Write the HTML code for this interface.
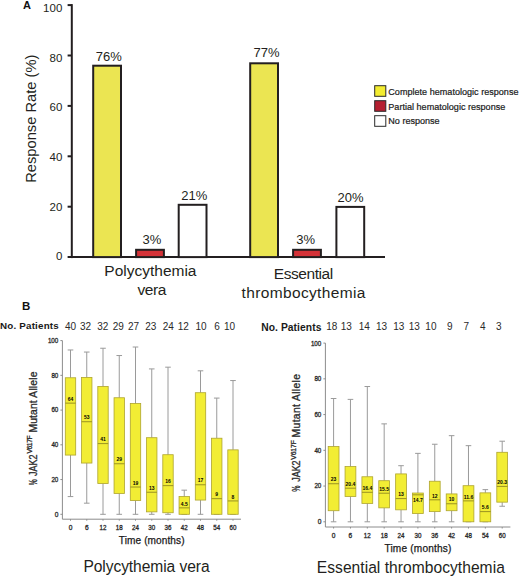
<!DOCTYPE html>
<html><head><meta charset="utf-8"><style>
html,body{margin:0;padding:0;background:#fff;}
svg{display:block;font-family:"Liberation Sans", sans-serif;}
</style></head><body>
<svg width="520" height="577" viewBox="0 0 520 577">
<rect width="520" height="577" fill="#fff"/>
<text x="23.00" y="9.20" font-size="11" font-weight="bold" fill="#111" >A</text>
<line x1="71.80" y1="4.10" x2="71.80" y2="258.10" stroke="#231f20" stroke-width="2"/>
<line x1="67.60" y1="257.10" x2="385.00" y2="257.10" stroke="#231f20" stroke-width="2"/>
<line x1="67.60" y1="206.70" x2="71.80" y2="206.70" stroke="#231f20" stroke-width="2"/>
<line x1="67.60" y1="156.30" x2="71.80" y2="156.30" stroke="#231f20" stroke-width="2"/>
<line x1="67.60" y1="105.90" x2="71.80" y2="105.90" stroke="#231f20" stroke-width="2"/>
<line x1="67.60" y1="55.50" x2="71.80" y2="55.50" stroke="#231f20" stroke-width="2"/>
<line x1="67.60" y1="5.10" x2="71.80" y2="5.10" stroke="#231f20" stroke-width="2"/>
<text x="62.30" y="259.50" font-size="11.5" text-anchor="end" fill="#231f20" >0</text>
<text x="62.30" y="211.00" font-size="11.5" text-anchor="end" fill="#231f20" >20</text>
<text x="62.30" y="160.50" font-size="11.5" text-anchor="end" fill="#231f20" >40</text>
<text x="62.30" y="111.40" font-size="11.5" text-anchor="end" fill="#231f20" >60</text>
<text x="62.30" y="61.50" font-size="11.5" text-anchor="end" fill="#231f20" >80</text>
<text x="62.30" y="12.00" font-size="11.5" text-anchor="end" fill="#231f20" >100</text>
<text transform="translate(35.5,118.75) rotate(-90)" font-size="14.7" text-anchor="middle" fill="#231f20">Response Rate (%)</text>
<rect x="93.20" y="65.70" width="27.80" height="191.40" fill="#ebe552" stroke="#231f20" stroke-width="2"/>
<text x="108.75" y="60.90" font-size="13" text-anchor="middle" fill="#231f20" >76%</text>
<rect x="136.10" y="249.80" width="27.80" height="7.30" fill="#d43238" stroke="#231f20" stroke-width="2"/>
<text x="152.00" y="243.60" font-size="13" text-anchor="middle" fill="#231f20" >3%</text>
<rect x="178.70" y="204.80" width="27.80" height="52.30" fill="#ffffff" stroke="#231f20" stroke-width="2"/>
<text x="194.25" y="200.00" font-size="13" text-anchor="middle" fill="#231f20" >21%</text>
<rect x="250.20" y="63.30" width="27.80" height="193.80" fill="#ebe552" stroke="#231f20" stroke-width="2"/>
<text x="266.50" y="57.00" font-size="13" text-anchor="middle" fill="#231f20" >77%</text>
<rect x="293.10" y="249.80" width="27.80" height="7.30" fill="#d43238" stroke="#231f20" stroke-width="2"/>
<text x="305.60" y="244.00" font-size="13" text-anchor="middle" fill="#231f20" >3%</text>
<rect x="336.40" y="206.90" width="27.80" height="50.20" fill="#ffffff" stroke="#231f20" stroke-width="2"/>
<text x="350.50" y="202.00" font-size="13" text-anchor="middle" fill="#231f20" >20%</text>
<text x="150.40" y="275.60" font-size="15.5" text-anchor="middle" fill="#231f20" >Polycythemia</text>
<text x="151.90" y="295.20" font-size="15.5" text-anchor="middle" fill="#231f20" textLength="28.90" lengthAdjust="spacing" >vera</text>
<text x="303.50" y="279.30" font-size="15.5" text-anchor="middle" fill="#231f20" textLength="59.50" lengthAdjust="spacing" >Essential</text>
<text x="303.50" y="297.80" font-size="15.5" text-anchor="middle" fill="#231f20" textLength="123.80" lengthAdjust="spacing" >thrombocythemia</text>
<rect x="374.70" y="85.70" width="11.10" height="10.60" fill="#f3ec30" stroke="#2a2a2a" stroke-width="1"/>
<text x="388.30" y="95.00" font-size="9.05" fill="#1a1a1a" textLength="130.20" lengthAdjust="spacing"  stroke="#1a1a1a" stroke-width="0.2">Complete hematologic response</text>
<rect x="374.70" y="100.70" width="11.10" height="10.60" fill="#b51f30" stroke="#2a2a2a" stroke-width="1"/>
<text x="388.30" y="109.60" font-size="9.05" fill="#1a1a1a" textLength="117.00" lengthAdjust="spacing"  stroke="#1a1a1a" stroke-width="0.2">Partial hematologic response</text>
<rect x="374.70" y="115.70" width="11.10" height="10.60" fill="#ffffff" stroke="#2a2a2a" stroke-width="1"/>
<text x="388.30" y="124.20" font-size="9.05" fill="#1a1a1a"  stroke="#1a1a1a" stroke-width="0.2">No response</text>
<text x="22.00" y="310.40" font-size="11.5" font-weight="bold" fill="#111" >B</text>
<line x1="62.40" y1="340.60" x2="62.40" y2="519.20" stroke="#8c8c8c" stroke-width="1"/>
<line x1="62.40" y1="519.20" x2="241.00" y2="519.20" stroke="#8c8c8c" stroke-width="1"/>
<line x1="60.40" y1="514.30" x2="62.40" y2="514.30" stroke="#8c8c8c" stroke-width="1"/>
<text x="58.30" y="516.70" font-size="6.6" text-anchor="end" fill="#2a2a2a"  stroke="#2a2a2a" stroke-width="0.3">0</text>
<line x1="60.40" y1="479.56" x2="62.40" y2="479.56" stroke="#8c8c8c" stroke-width="1"/>
<text x="58.30" y="481.96" font-size="6.6" text-anchor="end" fill="#2a2a2a" textLength="6.90" lengthAdjust="spacingAndGlyphs"  stroke="#2a2a2a" stroke-width="0.3">20</text>
<line x1="60.40" y1="444.82" x2="62.40" y2="444.82" stroke="#8c8c8c" stroke-width="1"/>
<text x="58.30" y="447.22" font-size="6.6" text-anchor="end" fill="#2a2a2a" textLength="6.90" lengthAdjust="spacingAndGlyphs"  stroke="#2a2a2a" stroke-width="0.3">40</text>
<line x1="60.40" y1="410.08" x2="62.40" y2="410.08" stroke="#8c8c8c" stroke-width="1"/>
<text x="58.30" y="412.48" font-size="6.6" text-anchor="end" fill="#2a2a2a" textLength="6.90" lengthAdjust="spacingAndGlyphs"  stroke="#2a2a2a" stroke-width="0.3">60</text>
<line x1="60.40" y1="375.34" x2="62.40" y2="375.34" stroke="#8c8c8c" stroke-width="1"/>
<text x="58.30" y="377.74" font-size="6.6" text-anchor="end" fill="#2a2a2a" textLength="6.90" lengthAdjust="spacingAndGlyphs"  stroke="#2a2a2a" stroke-width="0.3">80</text>
<line x1="60.40" y1="340.60" x2="62.40" y2="340.60" stroke="#8c8c8c" stroke-width="1"/>
<text x="58.30" y="343.00" font-size="6.6" text-anchor="end" fill="#2a2a2a" textLength="10.40" lengthAdjust="spacingAndGlyphs"  stroke="#2a2a2a" stroke-width="0.3">100</text>
<line x1="70.50" y1="519.20" x2="70.50" y2="520.70" stroke="#8c8c8c" stroke-width="1"/>
<text x="70.50" y="529.70" font-size="6.6" text-anchor="middle" fill="#2a2a2a"  stroke="#2a2a2a" stroke-width="0.3">0</text>
<line x1="70.50" y1="349.98" x2="70.50" y2="377.77" stroke="#9a9a9a" stroke-width="1"/>
<line x1="67.70" y1="349.98" x2="73.30" y2="349.98" stroke="#9a9a9a" stroke-width="1"/>
<line x1="70.50" y1="455.07" x2="70.50" y2="496.58" stroke="#9a9a9a" stroke-width="1"/>
<line x1="67.70" y1="496.58" x2="73.30" y2="496.58" stroke="#9a9a9a" stroke-width="1"/>
<rect x="65.30" y="377.77" width="10.40" height="77.30" fill="#f2ed34" stroke="#aea42e" stroke-width="0.8"/>
<line x1="65.30" y1="403.13" x2="75.70" y2="403.13" stroke="#9a9222" stroke-width="1"/>
<text x="70.50" y="400.83" font-size="5" text-anchor="middle" font-weight="bold" fill="#000" >64</text>
<line x1="86.75" y1="519.20" x2="86.75" y2="520.70" stroke="#8c8c8c" stroke-width="1"/>
<text x="86.75" y="529.70" font-size="6.6" text-anchor="middle" fill="#2a2a2a"  stroke="#2a2a2a" stroke-width="0.3">6</text>
<line x1="86.75" y1="352.06" x2="86.75" y2="377.42" stroke="#9a9a9a" stroke-width="1"/>
<line x1="83.95" y1="352.06" x2="89.55" y2="352.06" stroke="#9a9a9a" stroke-width="1"/>
<line x1="86.75" y1="463.06" x2="86.75" y2="503.18" stroke="#9a9a9a" stroke-width="1"/>
<line x1="83.95" y1="503.18" x2="89.55" y2="503.18" stroke="#9a9a9a" stroke-width="1"/>
<rect x="81.55" y="377.42" width="10.40" height="85.63" fill="#f2ed34" stroke="#aea42e" stroke-width="0.8"/>
<line x1="81.55" y1="421.72" x2="91.95" y2="421.72" stroke="#9a9222" stroke-width="1"/>
<text x="86.75" y="419.42" font-size="5" text-anchor="middle" font-weight="bold" fill="#000" >53</text>
<line x1="103.00" y1="519.20" x2="103.00" y2="520.70" stroke="#8c8c8c" stroke-width="1"/>
<text x="103.00" y="529.70" font-size="6.6" text-anchor="middle" fill="#2a2a2a" textLength="6.90" lengthAdjust="spacingAndGlyphs"  stroke="#2a2a2a" stroke-width="0.3">12</text>
<line x1="103.00" y1="348.24" x2="103.00" y2="386.46" stroke="#9a9a9a" stroke-width="1"/>
<line x1="100.20" y1="348.24" x2="105.80" y2="348.24" stroke="#9a9a9a" stroke-width="1"/>
<line x1="103.00" y1="483.56" x2="103.00" y2="514.30" stroke="#9a9a9a" stroke-width="1"/>
<line x1="100.20" y1="514.30" x2="105.80" y2="514.30" stroke="#9a9a9a" stroke-width="1"/>
<rect x="97.80" y="386.46" width="10.40" height="97.10" fill="#f2ed34" stroke="#aea42e" stroke-width="0.8"/>
<line x1="97.80" y1="443.60" x2="108.20" y2="443.60" stroke="#9a9222" stroke-width="1"/>
<text x="103.00" y="441.30" font-size="5" text-anchor="middle" font-weight="bold" fill="#000" >41</text>
<line x1="119.25" y1="519.20" x2="119.25" y2="520.70" stroke="#8c8c8c" stroke-width="1"/>
<text x="119.25" y="529.70" font-size="6.6" text-anchor="middle" fill="#2a2a2a" textLength="6.90" lengthAdjust="spacingAndGlyphs"  stroke="#2a2a2a" stroke-width="0.3">18</text>
<line x1="119.25" y1="355.54" x2="119.25" y2="397.75" stroke="#9a9a9a" stroke-width="1"/>
<line x1="116.45" y1="355.54" x2="122.05" y2="355.54" stroke="#9a9a9a" stroke-width="1"/>
<line x1="119.25" y1="493.46" x2="119.25" y2="514.30" stroke="#9a9a9a" stroke-width="1"/>
<line x1="116.45" y1="514.30" x2="122.05" y2="514.30" stroke="#9a9a9a" stroke-width="1"/>
<rect x="114.05" y="397.75" width="10.40" height="95.71" fill="#f2ed34" stroke="#aea42e" stroke-width="0.8"/>
<line x1="114.05" y1="463.75" x2="124.45" y2="463.75" stroke="#9a9222" stroke-width="1"/>
<text x="119.25" y="461.45" font-size="5" text-anchor="middle" font-weight="bold" fill="#000" >29</text>
<line x1="135.50" y1="519.20" x2="135.50" y2="520.70" stroke="#8c8c8c" stroke-width="1"/>
<text x="135.50" y="529.70" font-size="6.6" text-anchor="middle" fill="#2a2a2a" textLength="6.90" lengthAdjust="spacingAndGlyphs"  stroke="#2a2a2a" stroke-width="0.3">24</text>
<line x1="135.50" y1="347.03" x2="135.50" y2="403.48" stroke="#9a9a9a" stroke-width="1"/>
<line x1="132.70" y1="347.03" x2="138.30" y2="347.03" stroke="#9a9a9a" stroke-width="1"/>
<line x1="135.50" y1="500.58" x2="135.50" y2="514.30" stroke="#9a9a9a" stroke-width="1"/>
<line x1="132.70" y1="514.30" x2="138.30" y2="514.30" stroke="#9a9a9a" stroke-width="1"/>
<rect x="130.30" y="403.48" width="10.40" height="97.10" fill="#f2ed34" stroke="#aea42e" stroke-width="0.8"/>
<line x1="130.30" y1="487.03" x2="140.70" y2="487.03" stroke="#9a9222" stroke-width="1"/>
<text x="135.50" y="484.73" font-size="5" text-anchor="middle" font-weight="bold" fill="#000" >19</text>
<line x1="151.75" y1="519.20" x2="151.75" y2="520.70" stroke="#8c8c8c" stroke-width="1"/>
<text x="151.75" y="529.70" font-size="6.6" text-anchor="middle" fill="#2a2a2a" textLength="6.90" lengthAdjust="spacingAndGlyphs"  stroke="#2a2a2a" stroke-width="0.3">30</text>
<line x1="151.75" y1="368.91" x2="151.75" y2="437.70" stroke="#9a9a9a" stroke-width="1"/>
<line x1="148.95" y1="368.91" x2="154.55" y2="368.91" stroke="#9a9a9a" stroke-width="1"/>
<line x1="151.75" y1="511.87" x2="151.75" y2="514.30" stroke="#9a9a9a" stroke-width="1"/>
<line x1="148.95" y1="514.30" x2="154.55" y2="514.30" stroke="#9a9a9a" stroke-width="1"/>
<rect x="146.55" y="437.70" width="10.40" height="74.17" fill="#f2ed34" stroke="#aea42e" stroke-width="0.8"/>
<line x1="146.55" y1="492.24" x2="156.95" y2="492.24" stroke="#9a9222" stroke-width="1"/>
<text x="151.75" y="489.94" font-size="5" text-anchor="middle" font-weight="bold" fill="#000" >13</text>
<line x1="168.00" y1="519.20" x2="168.00" y2="520.70" stroke="#8c8c8c" stroke-width="1"/>
<text x="168.00" y="529.70" font-size="6.6" text-anchor="middle" fill="#2a2a2a" textLength="6.90" lengthAdjust="spacingAndGlyphs"  stroke="#2a2a2a" stroke-width="0.3">36</text>
<line x1="168.00" y1="367.18" x2="168.00" y2="454.72" stroke="#9a9a9a" stroke-width="1"/>
<line x1="165.20" y1="367.18" x2="170.80" y2="367.18" stroke="#9a9a9a" stroke-width="1"/>
<line x1="168.00" y1="512.74" x2="168.00" y2="514.30" stroke="#9a9a9a" stroke-width="1"/>
<line x1="165.20" y1="514.30" x2="170.80" y2="514.30" stroke="#9a9a9a" stroke-width="1"/>
<rect x="162.80" y="454.72" width="10.40" height="58.02" fill="#f2ed34" stroke="#aea42e" stroke-width="0.8"/>
<line x1="162.80" y1="485.64" x2="173.20" y2="485.64" stroke="#9a9222" stroke-width="1"/>
<text x="168.00" y="483.34" font-size="5" text-anchor="middle" font-weight="bold" fill="#000" >16</text>
<line x1="184.25" y1="519.20" x2="184.25" y2="520.70" stroke="#8c8c8c" stroke-width="1"/>
<text x="184.25" y="529.70" font-size="6.6" text-anchor="middle" fill="#2a2a2a" textLength="6.90" lengthAdjust="spacingAndGlyphs"  stroke="#2a2a2a" stroke-width="0.3">42</text>
<line x1="184.25" y1="490.16" x2="184.25" y2="496.58" stroke="#9a9a9a" stroke-width="1"/>
<line x1="181.45" y1="490.16" x2="187.05" y2="490.16" stroke="#9a9a9a" stroke-width="1"/>
<line x1="184.25" y1="514.30" x2="184.25" y2="514.30" stroke="#9a9a9a" stroke-width="1"/>
<line x1="181.45" y1="514.30" x2="187.05" y2="514.30" stroke="#9a9a9a" stroke-width="1"/>
<rect x="179.05" y="496.58" width="10.40" height="17.72" fill="#f2ed34" stroke="#aea42e" stroke-width="0.8"/>
<line x1="179.05" y1="507.87" x2="189.45" y2="507.87" stroke="#9a9222" stroke-width="1"/>
<text x="184.25" y="505.57" font-size="5" text-anchor="middle" font-weight="bold" fill="#000" >4.5</text>
<line x1="200.50" y1="519.20" x2="200.50" y2="520.70" stroke="#8c8c8c" stroke-width="1"/>
<text x="200.50" y="529.70" font-size="6.6" text-anchor="middle" fill="#2a2a2a" textLength="6.90" lengthAdjust="spacingAndGlyphs"  stroke="#2a2a2a" stroke-width="0.3">48</text>
<line x1="200.50" y1="370.82" x2="200.50" y2="392.71" stroke="#9a9a9a" stroke-width="1"/>
<line x1="197.70" y1="370.82" x2="203.30" y2="370.82" stroke="#9a9a9a" stroke-width="1"/>
<line x1="200.50" y1="500.06" x2="200.50" y2="514.30" stroke="#9a9a9a" stroke-width="1"/>
<line x1="197.70" y1="514.30" x2="203.30" y2="514.30" stroke="#9a9a9a" stroke-width="1"/>
<rect x="195.30" y="392.71" width="10.40" height="107.35" fill="#f2ed34" stroke="#aea42e" stroke-width="0.8"/>
<line x1="195.30" y1="484.77" x2="205.70" y2="484.77" stroke="#9a9222" stroke-width="1"/>
<text x="200.50" y="482.47" font-size="5" text-anchor="middle" font-weight="bold" fill="#000" >17</text>
<line x1="216.75" y1="519.20" x2="216.75" y2="520.70" stroke="#8c8c8c" stroke-width="1"/>
<text x="216.75" y="529.70" font-size="6.6" text-anchor="middle" fill="#2a2a2a" textLength="6.90" lengthAdjust="spacingAndGlyphs"  stroke="#2a2a2a" stroke-width="0.3">54</text>
<line x1="216.75" y1="398.09" x2="216.75" y2="438.22" stroke="#9a9a9a" stroke-width="1"/>
<line x1="213.95" y1="398.09" x2="219.55" y2="398.09" stroke="#9a9a9a" stroke-width="1"/>
<line x1="216.75" y1="514.30" x2="216.75" y2="514.30" stroke="#9a9a9a" stroke-width="1"/>
<line x1="213.95" y1="514.30" x2="219.55" y2="514.30" stroke="#9a9a9a" stroke-width="1"/>
<rect x="211.55" y="438.22" width="10.40" height="76.08" fill="#f2ed34" stroke="#aea42e" stroke-width="0.8"/>
<line x1="211.55" y1="498.67" x2="221.95" y2="498.67" stroke="#9a9222" stroke-width="1"/>
<text x="216.75" y="496.37" font-size="5" text-anchor="middle" font-weight="bold" fill="#000" >9</text>
<line x1="233.00" y1="519.20" x2="233.00" y2="520.70" stroke="#8c8c8c" stroke-width="1"/>
<text x="233.00" y="529.70" font-size="6.6" text-anchor="middle" fill="#2a2a2a" textLength="6.90" lengthAdjust="spacingAndGlyphs"  stroke="#2a2a2a" stroke-width="0.3">60</text>
<line x1="233.00" y1="380.55" x2="233.00" y2="449.86" stroke="#9a9a9a" stroke-width="1"/>
<line x1="230.20" y1="380.55" x2="235.80" y2="380.55" stroke="#9a9a9a" stroke-width="1"/>
<line x1="233.00" y1="514.30" x2="233.00" y2="514.30" stroke="#9a9a9a" stroke-width="1"/>
<line x1="230.20" y1="514.30" x2="235.80" y2="514.30" stroke="#9a9a9a" stroke-width="1"/>
<rect x="227.80" y="449.86" width="10.40" height="64.44" fill="#f2ed34" stroke="#aea42e" stroke-width="0.8"/>
<line x1="227.80" y1="500.93" x2="238.20" y2="500.93" stroke="#9a9222" stroke-width="1"/>
<text x="233.00" y="498.63" font-size="5" text-anchor="middle" font-weight="bold" fill="#000" >8</text>
<line x1="325.40" y1="343.10" x2="325.40" y2="527.00" stroke="#8c8c8c" stroke-width="1"/>
<line x1="325.40" y1="527.00" x2="510.40" y2="527.00" stroke="#8c8c8c" stroke-width="1"/>
<line x1="323.40" y1="521.80" x2="325.40" y2="521.80" stroke="#8c8c8c" stroke-width="1"/>
<text x="321.30" y="524.20" font-size="6.6" text-anchor="end" fill="#2a2a2a"  stroke="#2a2a2a" stroke-width="0.3">0</text>
<line x1="323.40" y1="486.06" x2="325.40" y2="486.06" stroke="#8c8c8c" stroke-width="1"/>
<text x="321.30" y="488.46" font-size="6.6" text-anchor="end" fill="#2a2a2a" textLength="6.90" lengthAdjust="spacingAndGlyphs"  stroke="#2a2a2a" stroke-width="0.3">20</text>
<line x1="323.40" y1="450.32" x2="325.40" y2="450.32" stroke="#8c8c8c" stroke-width="1"/>
<text x="321.30" y="452.72" font-size="6.6" text-anchor="end" fill="#2a2a2a" textLength="6.90" lengthAdjust="spacingAndGlyphs"  stroke="#2a2a2a" stroke-width="0.3">40</text>
<line x1="323.40" y1="414.58" x2="325.40" y2="414.58" stroke="#8c8c8c" stroke-width="1"/>
<text x="321.30" y="416.98" font-size="6.6" text-anchor="end" fill="#2a2a2a" textLength="6.90" lengthAdjust="spacingAndGlyphs"  stroke="#2a2a2a" stroke-width="0.3">60</text>
<line x1="323.40" y1="378.84" x2="325.40" y2="378.84" stroke="#8c8c8c" stroke-width="1"/>
<text x="321.30" y="381.24" font-size="6.6" text-anchor="end" fill="#2a2a2a" textLength="6.90" lengthAdjust="spacingAndGlyphs"  stroke="#2a2a2a" stroke-width="0.3">80</text>
<line x1="323.40" y1="343.10" x2="325.40" y2="343.10" stroke="#8c8c8c" stroke-width="1"/>
<text x="321.30" y="345.50" font-size="6.6" text-anchor="end" fill="#2a2a2a" textLength="10.40" lengthAdjust="spacingAndGlyphs"  stroke="#2a2a2a" stroke-width="0.3">100</text>
<line x1="333.60" y1="527.00" x2="333.60" y2="528.50" stroke="#8c8c8c" stroke-width="1"/>
<text x="333.60" y="537.80" font-size="6.6" text-anchor="middle" fill="#2a2a2a"  stroke="#2a2a2a" stroke-width="0.3">0</text>
<line x1="333.60" y1="398.50" x2="333.60" y2="446.57" stroke="#9a9a9a" stroke-width="1"/>
<line x1="330.80" y1="398.50" x2="336.40" y2="398.50" stroke="#9a9a9a" stroke-width="1"/>
<line x1="333.60" y1="510.72" x2="333.60" y2="521.80" stroke="#9a9a9a" stroke-width="1"/>
<line x1="330.80" y1="521.80" x2="336.40" y2="521.80" stroke="#9a9a9a" stroke-width="1"/>
<rect x="328.20" y="446.57" width="10.80" height="64.15" fill="#f2ed34" stroke="#aea42e" stroke-width="0.8"/>
<line x1="328.20" y1="483.74" x2="339.00" y2="483.74" stroke="#9a9222" stroke-width="1"/>
<text x="333.60" y="481.44" font-size="5" text-anchor="middle" font-weight="bold" fill="#000" >23</text>
<line x1="350.46" y1="527.00" x2="350.46" y2="528.50" stroke="#8c8c8c" stroke-width="1"/>
<text x="350.46" y="537.80" font-size="6.6" text-anchor="middle" fill="#2a2a2a"  stroke="#2a2a2a" stroke-width="0.3">6</text>
<line x1="350.46" y1="399.39" x2="350.46" y2="466.58" stroke="#9a9a9a" stroke-width="1"/>
<line x1="347.66" y1="399.39" x2="353.26" y2="399.39" stroke="#9a9a9a" stroke-width="1"/>
<line x1="350.46" y1="496.42" x2="350.46" y2="521.80" stroke="#9a9a9a" stroke-width="1"/>
<line x1="347.66" y1="521.80" x2="353.26" y2="521.80" stroke="#9a9a9a" stroke-width="1"/>
<rect x="345.06" y="466.58" width="10.80" height="29.84" fill="#f2ed34" stroke="#aea42e" stroke-width="0.8"/>
<line x1="345.06" y1="488.20" x2="355.86" y2="488.20" stroke="#9a9222" stroke-width="1"/>
<text x="350.46" y="485.90" font-size="5" text-anchor="middle" font-weight="bold" fill="#000" >20.4</text>
<line x1="367.32" y1="527.00" x2="367.32" y2="528.50" stroke="#8c8c8c" stroke-width="1"/>
<text x="367.32" y="537.80" font-size="6.6" text-anchor="middle" fill="#2a2a2a" textLength="6.90" lengthAdjust="spacingAndGlyphs"  stroke="#2a2a2a" stroke-width="0.3">12</text>
<line x1="367.32" y1="386.52" x2="367.32" y2="476.77" stroke="#9a9a9a" stroke-width="1"/>
<line x1="364.52" y1="386.52" x2="370.12" y2="386.52" stroke="#9a9a9a" stroke-width="1"/>
<line x1="367.32" y1="503.39" x2="367.32" y2="521.80" stroke="#9a9a9a" stroke-width="1"/>
<line x1="364.52" y1="521.80" x2="370.12" y2="521.80" stroke="#9a9a9a" stroke-width="1"/>
<rect x="361.92" y="476.77" width="10.80" height="26.63" fill="#f2ed34" stroke="#aea42e" stroke-width="0.8"/>
<line x1="361.92" y1="492.31" x2="372.72" y2="492.31" stroke="#9a9222" stroke-width="1"/>
<text x="367.32" y="490.01" font-size="5" text-anchor="middle" font-weight="bold" fill="#000" >16.4</text>
<line x1="384.18" y1="527.00" x2="384.18" y2="528.50" stroke="#8c8c8c" stroke-width="1"/>
<text x="384.18" y="537.80" font-size="6.6" text-anchor="middle" fill="#2a2a2a" textLength="6.90" lengthAdjust="spacingAndGlyphs"  stroke="#2a2a2a" stroke-width="0.3">18</text>
<line x1="384.18" y1="423.87" x2="384.18" y2="480.70" stroke="#9a9a9a" stroke-width="1"/>
<line x1="381.38" y1="423.87" x2="386.98" y2="423.87" stroke="#9a9a9a" stroke-width="1"/>
<line x1="384.18" y1="507.86" x2="384.18" y2="521.80" stroke="#9a9a9a" stroke-width="1"/>
<line x1="381.38" y1="521.80" x2="386.98" y2="521.80" stroke="#9a9a9a" stroke-width="1"/>
<rect x="378.78" y="480.70" width="10.80" height="27.16" fill="#f2ed34" stroke="#aea42e" stroke-width="0.8"/>
<line x1="378.78" y1="493.21" x2="389.58" y2="493.21" stroke="#9a9222" stroke-width="1"/>
<text x="384.18" y="490.91" font-size="5" text-anchor="middle" font-weight="bold" fill="#000" >15.5</text>
<line x1="401.04" y1="527.00" x2="401.04" y2="528.50" stroke="#8c8c8c" stroke-width="1"/>
<text x="401.04" y="537.80" font-size="6.6" text-anchor="middle" fill="#2a2a2a" textLength="6.90" lengthAdjust="spacingAndGlyphs"  stroke="#2a2a2a" stroke-width="0.3">24</text>
<line x1="401.04" y1="465.69" x2="401.04" y2="473.91" stroke="#9a9a9a" stroke-width="1"/>
<line x1="398.24" y1="465.69" x2="403.84" y2="465.69" stroke="#9a9a9a" stroke-width="1"/>
<line x1="401.04" y1="509.83" x2="401.04" y2="521.80" stroke="#9a9a9a" stroke-width="1"/>
<line x1="398.24" y1="521.80" x2="403.84" y2="521.80" stroke="#9a9a9a" stroke-width="1"/>
<rect x="395.64" y="473.91" width="10.80" height="35.92" fill="#f2ed34" stroke="#aea42e" stroke-width="0.8"/>
<line x1="395.64" y1="498.57" x2="406.44" y2="498.57" stroke="#9a9222" stroke-width="1"/>
<text x="401.04" y="496.27" font-size="5" text-anchor="middle" font-weight="bold" fill="#000" >13</text>
<line x1="417.90" y1="527.00" x2="417.90" y2="528.50" stroke="#8c8c8c" stroke-width="1"/>
<text x="417.90" y="537.80" font-size="6.6" text-anchor="middle" fill="#2a2a2a" textLength="6.90" lengthAdjust="spacingAndGlyphs"  stroke="#2a2a2a" stroke-width="0.3">30</text>
<line x1="417.90" y1="453.36" x2="417.90" y2="493.03" stroke="#9a9a9a" stroke-width="1"/>
<line x1="415.10" y1="453.36" x2="420.70" y2="453.36" stroke="#9a9a9a" stroke-width="1"/>
<line x1="417.90" y1="513.58" x2="417.90" y2="521.80" stroke="#9a9a9a" stroke-width="1"/>
<line x1="415.10" y1="521.80" x2="420.70" y2="521.80" stroke="#9a9a9a" stroke-width="1"/>
<rect x="412.50" y="493.03" width="10.80" height="20.55" fill="#f2ed34" stroke="#aea42e" stroke-width="0.8"/>
<line x1="412.50" y1="494.82" x2="423.30" y2="494.82" stroke="#9a9222" stroke-width="1"/>
<text x="417.90" y="502.20" font-size="5" text-anchor="middle" font-weight="bold" fill="#000" >14.7</text>
<line x1="434.76" y1="527.00" x2="434.76" y2="528.50" stroke="#8c8c8c" stroke-width="1"/>
<text x="434.76" y="537.80" font-size="6.6" text-anchor="middle" fill="#2a2a2a" textLength="6.90" lengthAdjust="spacingAndGlyphs"  stroke="#2a2a2a" stroke-width="0.3">36</text>
<line x1="434.76" y1="444.24" x2="434.76" y2="481.24" stroke="#9a9a9a" stroke-width="1"/>
<line x1="431.96" y1="444.24" x2="437.56" y2="444.24" stroke="#9a9a9a" stroke-width="1"/>
<line x1="434.76" y1="511.61" x2="434.76" y2="521.80" stroke="#9a9a9a" stroke-width="1"/>
<line x1="431.96" y1="521.80" x2="437.56" y2="521.80" stroke="#9a9a9a" stroke-width="1"/>
<rect x="429.36" y="481.24" width="10.80" height="30.38" fill="#f2ed34" stroke="#aea42e" stroke-width="0.8"/>
<line x1="429.36" y1="499.82" x2="440.16" y2="499.82" stroke="#9a9222" stroke-width="1"/>
<text x="434.76" y="497.52" font-size="5" text-anchor="middle" font-weight="bold" fill="#000" >12</text>
<line x1="451.62" y1="527.00" x2="451.62" y2="528.50" stroke="#8c8c8c" stroke-width="1"/>
<text x="451.62" y="537.80" font-size="6.6" text-anchor="middle" fill="#2a2a2a" textLength="6.90" lengthAdjust="spacingAndGlyphs"  stroke="#2a2a2a" stroke-width="0.3">42</text>
<line x1="451.62" y1="435.67" x2="451.62" y2="493.92" stroke="#9a9a9a" stroke-width="1"/>
<line x1="448.82" y1="435.67" x2="454.42" y2="435.67" stroke="#9a9a9a" stroke-width="1"/>
<line x1="451.62" y1="510.72" x2="451.62" y2="521.80" stroke="#9a9a9a" stroke-width="1"/>
<line x1="448.82" y1="521.80" x2="454.42" y2="521.80" stroke="#9a9a9a" stroke-width="1"/>
<rect x="446.22" y="493.92" width="10.80" height="16.80" fill="#f2ed34" stroke="#aea42e" stroke-width="0.8"/>
<line x1="446.22" y1="503.75" x2="457.02" y2="503.75" stroke="#9a9222" stroke-width="1"/>
<text x="451.62" y="501.45" font-size="5" text-anchor="middle" font-weight="bold" fill="#000" >10</text>
<line x1="468.48" y1="527.00" x2="468.48" y2="528.50" stroke="#8c8c8c" stroke-width="1"/>
<text x="468.48" y="537.80" font-size="6.6" text-anchor="middle" fill="#2a2a2a" textLength="6.90" lengthAdjust="spacingAndGlyphs"  stroke="#2a2a2a" stroke-width="0.3">48</text>
<line x1="468.48" y1="445.67" x2="468.48" y2="485.70" stroke="#9a9a9a" stroke-width="1"/>
<line x1="465.68" y1="445.67" x2="471.28" y2="445.67" stroke="#9a9a9a" stroke-width="1"/>
<line x1="468.48" y1="521.80" x2="468.48" y2="521.80" stroke="#9a9a9a" stroke-width="1"/>
<line x1="465.68" y1="521.80" x2="471.28" y2="521.80" stroke="#9a9a9a" stroke-width="1"/>
<rect x="463.08" y="485.70" width="10.80" height="36.10" fill="#f2ed34" stroke="#aea42e" stroke-width="0.8"/>
<line x1="463.08" y1="500.89" x2="473.88" y2="500.89" stroke="#9a9222" stroke-width="1"/>
<text x="468.48" y="498.59" font-size="5" text-anchor="middle" font-weight="bold" fill="#000" >11.6</text>
<line x1="485.34" y1="527.00" x2="485.34" y2="528.50" stroke="#8c8c8c" stroke-width="1"/>
<text x="485.34" y="537.80" font-size="6.6" text-anchor="middle" fill="#2a2a2a" textLength="6.90" lengthAdjust="spacingAndGlyphs"  stroke="#2a2a2a" stroke-width="0.3">54</text>
<line x1="485.34" y1="489.63" x2="485.34" y2="492.85" stroke="#9a9a9a" stroke-width="1"/>
<line x1="482.54" y1="489.63" x2="488.14" y2="489.63" stroke="#9a9a9a" stroke-width="1"/>
<line x1="485.34" y1="521.80" x2="485.34" y2="521.80" stroke="#9a9a9a" stroke-width="1"/>
<line x1="482.54" y1="521.80" x2="488.14" y2="521.80" stroke="#9a9a9a" stroke-width="1"/>
<rect x="479.94" y="492.85" width="10.80" height="28.95" fill="#f2ed34" stroke="#aea42e" stroke-width="0.8"/>
<line x1="479.94" y1="511.61" x2="490.74" y2="511.61" stroke="#9a9222" stroke-width="1"/>
<text x="485.34" y="509.31" font-size="5" text-anchor="middle" font-weight="bold" fill="#000" >5.6</text>
<line x1="502.20" y1="527.00" x2="502.20" y2="528.50" stroke="#8c8c8c" stroke-width="1"/>
<text x="502.20" y="537.80" font-size="6.6" text-anchor="middle" fill="#2a2a2a" textLength="6.90" lengthAdjust="spacingAndGlyphs"  stroke="#2a2a2a" stroke-width="0.3">60</text>
<line x1="502.20" y1="441.21" x2="502.20" y2="452.29" stroke="#9a9a9a" stroke-width="1"/>
<line x1="499.40" y1="441.21" x2="505.00" y2="441.21" stroke="#9a9a9a" stroke-width="1"/>
<line x1="502.20" y1="502.14" x2="502.20" y2="506.25" stroke="#9a9a9a" stroke-width="1"/>
<line x1="499.40" y1="506.25" x2="505.00" y2="506.25" stroke="#9a9a9a" stroke-width="1"/>
<rect x="496.80" y="452.29" width="10.80" height="49.86" fill="#f2ed34" stroke="#aea42e" stroke-width="0.8"/>
<line x1="496.80" y1="486.42" x2="507.60" y2="486.42" stroke="#9a9222" stroke-width="1"/>
<text x="502.20" y="484.12" font-size="5" text-anchor="middle" font-weight="bold" fill="#000" >20.3</text>
<text x="70.60" y="330.00" font-size="10" text-anchor="middle" fill="#2a2a2a" >40</text>
<text x="85.50" y="330.00" font-size="10" text-anchor="middle" fill="#2a2a2a" >32</text>
<text x="102.75" y="330.00" font-size="10" text-anchor="middle" fill="#2a2a2a" >32</text>
<text x="118.20" y="330.00" font-size="10" text-anchor="middle" fill="#2a2a2a" >29</text>
<text x="133.55" y="330.00" font-size="10" text-anchor="middle" fill="#2a2a2a" >27</text>
<text x="150.70" y="330.00" font-size="10" text-anchor="middle" fill="#2a2a2a" >23</text>
<text x="168.25" y="330.00" font-size="10" text-anchor="middle" fill="#2a2a2a" >24</text>
<text x="183.25" y="330.00" font-size="10" text-anchor="middle" fill="#2a2a2a" >12</text>
<text x="201.00" y="330.00" font-size="10" text-anchor="middle" fill="#2a2a2a" >10</text>
<text x="217.10" y="330.00" font-size="10" text-anchor="middle" fill="#2a2a2a" >6</text>
<text x="229.60" y="330.00" font-size="10" text-anchor="middle" fill="#2a2a2a" >10</text>
<text x="331.80" y="330.00" font-size="10" text-anchor="middle" fill="#2a2a2a" >18</text>
<text x="346.20" y="330.00" font-size="10" text-anchor="middle" fill="#2a2a2a" >13</text>
<text x="364.20" y="330.00" font-size="10" text-anchor="middle" fill="#2a2a2a" >14</text>
<text x="381.50" y="330.00" font-size="10" text-anchor="middle" fill="#2a2a2a" >13</text>
<text x="398.85" y="330.00" font-size="10" text-anchor="middle" fill="#2a2a2a" >13</text>
<text x="414.20" y="330.00" font-size="10" text-anchor="middle" fill="#2a2a2a" >13</text>
<text x="430.90" y="330.00" font-size="10" text-anchor="middle" fill="#2a2a2a" >10</text>
<text x="449.90" y="330.00" font-size="10" text-anchor="middle" fill="#2a2a2a" >9</text>
<text x="466.25" y="330.00" font-size="10" text-anchor="middle" fill="#2a2a2a" >7</text>
<text x="482.80" y="330.00" font-size="10" text-anchor="middle" fill="#2a2a2a" >4</text>
<text x="498.90" y="330.00" font-size="10" text-anchor="middle" fill="#2a2a2a" >3</text>
<text x="0.10" y="328.80" font-size="9.8" font-weight="bold" fill="#1a1a1a" textLength="58.60" lengthAdjust="spacing" >No. Patients</text>
<text x="261.20" y="330.80" font-size="10.3" font-weight="bold" fill="#1a1a1a" textLength="60.20" lengthAdjust="spacing" >No. Patients</text>
<text transform="translate(37.40,485.30) rotate(-90)" font-size="10.0" fill="#2a2a2a" textLength="5.90" lengthAdjust="spacingAndGlyphs" stroke="#2a2a2a" stroke-width="0.3">%</text>
<text transform="translate(37.40,476.10) rotate(-90)" font-size="10.2" fill="#2a2a2a" textLength="21.60" lengthAdjust="spacingAndGlyphs" stroke="#2a2a2a" stroke-width="0.3">JAK2</text>
<text transform="translate(32.40,453.60) rotate(-90)" font-size="6.8" fill="#2a2a2a" textLength="18.30" lengthAdjust="spacing" stroke="#2a2a2a" stroke-width="0.3">V617F</text>
<text transform="translate(37.40,432.60) rotate(-90)" font-size="10.3" fill="#2a2a2a" textLength="61.00" lengthAdjust="spacing" stroke="#2a2a2a" stroke-width="0.3">Mutant Allele</text>
<text transform="translate(300.20,491.80) rotate(-90)" font-size="10.0" fill="#2a2a2a" textLength="6.20" lengthAdjust="spacingAndGlyphs" stroke="#2a2a2a" stroke-width="0.3">%</text>
<text transform="translate(300.20,481.80) rotate(-90)" font-size="10.2" fill="#2a2a2a" textLength="21.40" lengthAdjust="spacingAndGlyphs" stroke="#2a2a2a" stroke-width="0.3">JAK2</text>
<text transform="translate(295.60,459.80) rotate(-90)" font-size="6.8" fill="#2a2a2a" textLength="19.70" lengthAdjust="spacing" stroke="#2a2a2a" stroke-width="0.3">V617F</text>
<text transform="translate(300.20,437.40) rotate(-90)" font-size="10.3" fill="#2a2a2a" textLength="63.40" lengthAdjust="spacing" stroke="#2a2a2a" stroke-width="0.3">Mutant Allele</text>
<text x="151.70" y="544.40" font-size="10.1" text-anchor="middle" fill="#1a1a1a" textLength="65.70" lengthAdjust="spacing"  stroke="#1a1a1a" stroke-width="0.25">Time (months)</text>
<text x="417.90" y="552.20" font-size="10.1" text-anchor="middle" fill="#1a1a1a" textLength="67.00" lengthAdjust="spacing"  stroke="#1a1a1a" stroke-width="0.25">Time (months)</text>
<text x="146.50" y="571.50" font-size="15.6" text-anchor="middle" fill="#231f20" textLength="126.20" lengthAdjust="spacing" >Polycythemia vera</text>
<text x="410.80" y="572.50" font-size="15.58" text-anchor="middle" fill="#231f20" textLength="188.00" lengthAdjust="spacing" >Essential thrombocythemia</text>
</svg>
</body></html>
